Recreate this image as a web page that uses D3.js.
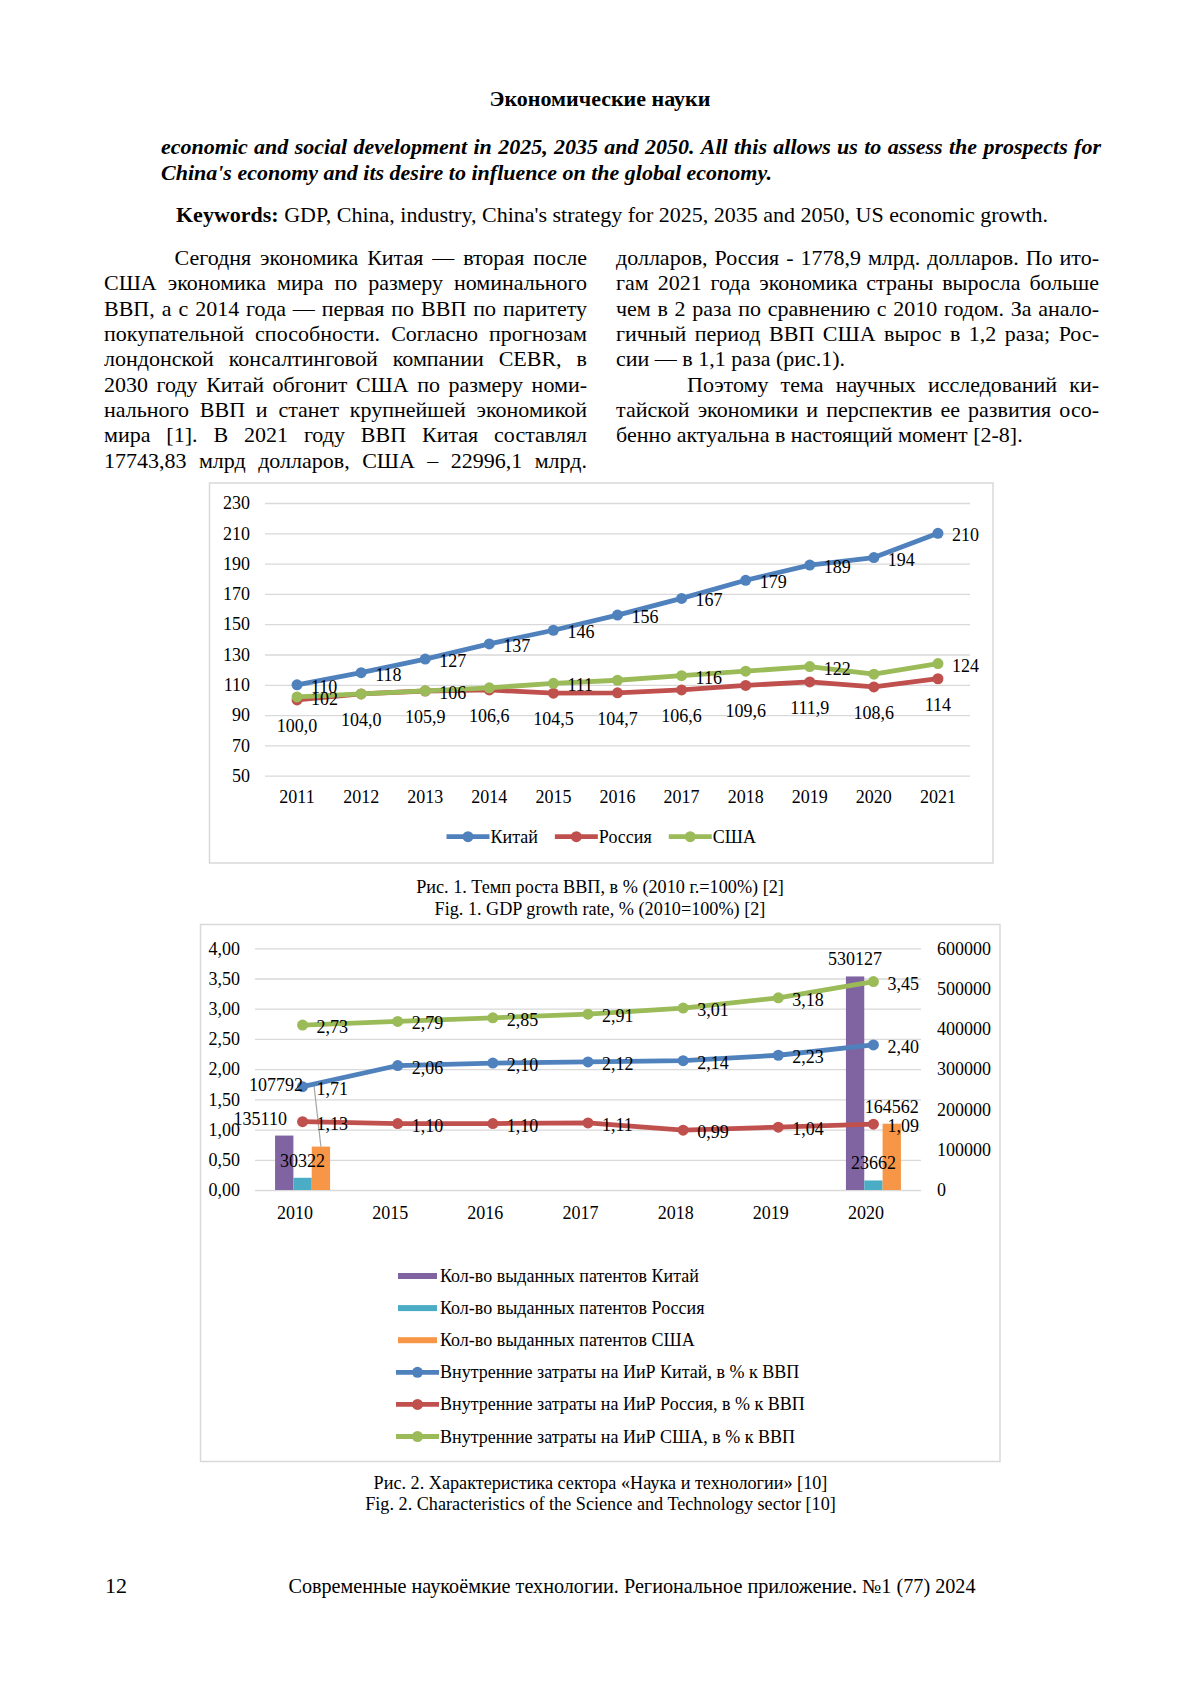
<!DOCTYPE html>
<html>
<head>
<meta charset="utf-8">
<script src="https://cdn.jsdelivr.net/npm/d3@7"></script>
<style>
  html, body { margin: 0; padding: 0; background: #fff; }
  svg { display: block; }
</style>
</head>
<body>
<script>
const width = 1200;
const height = 1697;
const SERIF = '"Liberation Serif", "Times New Roman", serif';

// ---- page text ----
const headerText = "Экономические науки";
const abstractLines = [
  "economic and social development in 2025, 2035 and 2050. All this allows us to assess the prospects for",
  "China's economy and its desire to influence on the global economy.",
];
const keywordsHead = "Keywords:";
const keywordsText = " GDP, China, industry, China's strategy for 2025, 2035 and 2050, US economic growth.";
const leftColumn = [
  "Сегодня экономика Китая — вторая после",
  "США экономика мира по размеру номинального",
  "ВВП, а с 2014 года — первая по ВВП по паритету",
  "покупательной способности. Согласно прогнозам",
  "лондонской консалтинговой компании CEBR, в",
  "2030 году Китай обгонит США по размеру номи-",
  "нального ВВП и станет крупнейшей экономикой",
  "мира [1]. В 2021 году ВВП Китая составлял",
  "17743,83 млрд долларов, США – 22996,1 млрд.",
];
const rightColumn = [
  "долларов, Россия - 1778,9 млрд. долларов. По ито-",
  "гам 2021 года экономика страны выросла больше",
  "чем в 2 раза по сравнению с 2010 годом. За анало-",
  "гичный период ВВП США вырос в 1,2 раза; Рос-",
  "сии — в 1,1 раза (рис.1).",
  "Поэтому тема научных исследований ки-",
  "тайской экономики и перспектив ее развития осо-",
  "бенно актуальна в настоящий момент [2-8].",
];
const fig1Caption = [
  "Рис. 1. Темп роста ВВП, в % (2010 г.=100%) [2]",
  "Fig. 1. GDP growth rate, % (2010=100%) [2]",
];
const fig2Caption = [
  "Рис. 2. Характеристика сектора «Наука и технологии» [10]",
  "Fig. 2. Characteristics of the Science and Technology sector [10]",
];
const pageNumber = "12";
const footerText = "Современные наукоёмкие технологии. Региональное приложение. №1 (77) 2024";

// ---- fig 1: GDP growth, % of 2010 ----
const years1 = ["2011", "2012", "2013", "2014", "2015", "2016", "2017", "2018", "2019", "2020", "2021"];
const gdpChina = [110, 118, 127, 137, 146, 156, 167, 179, 189, 194, 210];
const gdpRussia = [100.0, 104.0, 105.9, 106.6, 104.5, 104.7, 106.6, 109.6, 111.9, 108.6, 114];
const gdpRussiaLabels = ["100,0", "104,0", "105,9", "106,6", "104,5", "104,7", "106,6", "109,6", "111,9", "108,6", "114"];
const gdpUsa = [102, 104, 106, 108, 111, 113, 116, 119, 122, 117, 124];
const gdpUsaLabelled = ["2011", "2013", "2015", "2017", "2019", "2021"];
const gdpTicks = [50, 70, 90, 110, 130, 150, 170, 190, 210, 230];

// ---- fig 2: science & technology ----
const years2 = ["2010", "2015", "2016", "2017", "2018", "2019", "2020"];
const patChina = [135110, null, null, null, null, null, 530127];
const patRussia = [30322, null, null, null, null, null, 23662];
const patUsa = [107792, null, null, null, null, null, 164562];
const rdChina = [1.71, 2.06, 2.10, 2.12, 2.14, 2.23, 2.40];
const rdRussia = [1.13, 1.10, 1.10, 1.11, 0.99, 1.04, 1.09];
const rdUsa = [2.73, 2.79, 2.85, 2.91, 3.01, 3.18, 3.45];
const rdTicks = [0, 0.5, 1, 1.5, 2, 2.5, 3, 3.5, 4];
const patTicks = [0, 100000, 200000, 300000, 400000, 500000, 600000];

const C = {
  blue: "#4F81BD", red: "#C0504D", green: "#9BBB59",
  purple: "#8064A2", aqua: "#4BACC6", orange: "#F79646",
  grid: "#d9d9d9", frame: "#d9d9d9",
};

const ctx = document.createElement("canvas").getContext("2d");
const measure = (s, font) => { ctx.font = font; return ctx.measureText(s).width; };
const comma = (f) => (v) => d3.format(f)(v).replace(".", ",");

// draws one line of text word by word, spread out to x1 when justified;
// a line that would not fit is set a little smaller
function textLine(g, str, x0, x1, y, o) {
  let size = o.size;
  const fontOf = (sz) => `${o.style || "normal"} ${o.weight || "normal"} ${sz}px ${SERIF}`;
  const words = str.split(" ");
  let ws = words.map((w) => measure(w, fontOf(size)));
  const minGap = 0.2 * size;
  if (o.justify && words.length > 1) {
    const room = x1 - x0 - minGap * (words.length - 1);
    if (d3.sum(ws) > room) {
      size = size * room / d3.sum(ws);
      ws = words.map((w) => measure(w, fontOf(size)));
    }
  }
  let gap = measure(" ", fontOf(size));
  if (o.justify && words.length > 1) {
    gap = (x1 - x0 - d3.sum(ws)) / (words.length - 1);
  }
  let x = x0;
  words.forEach((w, i) => {
    g.append("text")
      .attr("x", x).attr("y", y)
      .attr("font-size", size)
      .attr("font-style", o.style || "normal")
      .attr("font-weight", o.weight || "normal")
      .text(w);
    x += ws[i] + gap;
  });
}

function drawPageText(svg) {
  const g = svg.append("g").attr("fill", "#000");
  g.append("text").attr("x", 600).attr("y", 106).attr("text-anchor", "middle")
    .attr("font-size", 22).attr("font-weight", "bold").text(headerText);

  textLine(g, abstractLines[0], 161, 1101, 154, { size: 22, style: "italic", weight: "bold", justify: true });
  textLine(g, abstractLines[1], 161, 1101, 179.5, { size: 22, style: "italic", weight: "bold" });

  const kw = g.append("text").attr("x", 176).attr("y", 222).attr("font-size", 22);
  kw.append("tspan").attr("font-weight", "bold").text(keywordsHead);
  kw.append("tspan").text(keywordsText);

  leftColumn.forEach((line, i) => {
    textLine(g, line, i === 0 ? 174.5 : 104, 587, 265 + i * 25.35, { size: 22, justify: true });
  });
  rightColumn.forEach((line, i) => {
    const last = i === 4 || i === rightColumn.length - 1;
    textLine(g, line, i === 5 ? 687 : 616, 1099, 265 + i * 25.35, { size: 22, justify: !last });
  });

  fig1Caption.forEach((t, i) => {
    g.append("text").attr("x", 600).attr("y", 893 + i * 21.5).attr("text-anchor", "middle")
      .attr("font-size", 18.2).text(t);
  });
  fig2Caption.forEach((t, i) => {
    g.append("text").attr("x", 600.5).attr("y", 1489 + i * 21).attr("text-anchor", "middle")
      .attr("font-size", 18.2).text(t);
  });

  g.append("text").attr("x", 105).attr("y", 1593).attr("font-size", 22).text(pageNumber);
  g.append("text").attr("x", 632).attr("y", 1593).attr("text-anchor", "middle")
    .attr("font-size", 20.2).text(footerText);
}

function styleAxis(a) {
  a.select(".domain").remove();
  a.selectAll("line").attr("stroke", C.grid).attr("stroke-width", 1.3);
  a.selectAll("text").attr("font-family", SERIF).attr("font-size", 18).attr("fill", "#000");
}

function drawGdpChart(svg) {
  const g = svg.append("g");
  g.append("rect").attr("x", 209.5).attr("y", 483).attr("width", 783.5).attr("height", 380)
    .attr("fill", "#fff").attr("stroke", C.frame).attr("stroke-width", 1.5);

  const x = d3.scaleBand().domain(years1).range([265, 970]);
  const y = d3.scaleLinear().domain([50, 230]).range([775.7, 503]);
  const cx = (d) => x(d) + x.bandwidth() / 2;

  g.append("g").attr("transform", "translate(265,0)")
    .call(d3.axisLeft(y).tickValues(gdpTicks).tickSize(-(970 - 265)).tickPadding(15).tickFormat(d3.format("d")))
    .call(styleAxis);
  g.append("g").attr("transform", "translate(0,775.7)")
    .call(d3.axisBottom(x).tickSize(0))
    .call(styleAxis)
    .call((a) => a.selectAll("text").attr("y", 27).attr("dy", null));

  const series = [
    { name: "Китай", color: C.blue, values: gdpChina, labels: gdpChina.map(String), pos: "right", show: years1 },
    { name: "Россия", color: C.red, values: gdpRussia, labels: gdpRussiaLabels, pos: "below", show: years1 },
    { name: "США", color: C.green, values: gdpUsa, labels: gdpUsa.map(String), pos: "right", show: gdpUsaLabelled },
  ];

  const line = d3.line().x((d) => cx(d.year)).y((d) => y(d.v));
  series.forEach((s) => {
    const pts = years1.map((year, i) => ({ year, v: s.values[i], label: s.labels[i] }));
    g.append("path").datum(pts).attr("d", line).attr("fill", "none")
      .attr("stroke", s.color).attr("stroke-width", 4.8).attr("stroke-linejoin", "round");
    g.append("g").selectAll("circle").data(pts).join("circle")
      .attr("cx", (d) => cx(d.year)).attr("cy", (d) => y(d.v)).attr("r", 5.5).attr("fill", s.color);
    s.pts = pts;
  });
  series.forEach((s) => {
    g.append("g").selectAll("text").data(s.pts.filter((d) => s.show.includes(d.year))).join("text")
      .attr("font-size", 18)
      .attr("x", (d) => cx(d.year) + (s.pos === "right" ? 14 : 0))
      .attr("y", (d) => y(d.v) + (s.pos === "right" ? 8 : 32))
      .attr("text-anchor", s.pos === "right" ? "start" : "middle")
      .text((d) => d.label);
  });

  // legend
  let lx = 446.5;
  const ly = 836.7;
  series.forEach((s) => {
    g.append("line").attr("x1", lx).attr("x2", lx + 43).attr("y1", ly).attr("y2", ly)
      .attr("stroke", s.color).attr("stroke-width", 4.8);
    g.append("circle").attr("cx", lx + 21.5).attr("cy", ly).attr("r", 5.5).attr("fill", s.color);
    g.append("text").attr("x", lx + 44).attr("y", ly + 6).attr("font-size", 18).text(s.name);
    lx += 44 + measure(s.name, `18px ${SERIF}`) + 17;
  });
}

function drawScienceChart(svg) {
  const g = svg.append("g");
  g.append("rect").attr("x", 200.5).attr("y", 924.5).attr("width", 799.5).attr("height", 537)
    .attr("fill", "#fff").attr("stroke", C.frame).attr("stroke-width", 1.5);

  const x = d3.scaleBand().domain(years2).range([255, 921]);
  const yL = d3.scaleLinear().domain([0, 4]).range([1190, 948.3]);
  const yR = d3.scaleLinear().domain([0, 600000]).range([1190, 948.3]);
  const cx = (d) => x(d) + x.bandwidth() / 2;
  const inner = d3.scaleBand().domain([0, 1, 2]).range([-27.5, 27.5]);

  g.append("g").attr("transform", "translate(255,0)")
    .call(d3.axisLeft(yL).tickValues(rdTicks).tickSize(-(921 - 255)).tickPadding(15).tickFormat(comma(".2f")))
    .call(styleAxis);
  g.append("g").attr("transform", "translate(921,0)")
    .call(d3.axisRight(yR).tickValues(patTicks).tickSize(0).tickPadding(16).tickFormat(d3.format("d")))
    .call(styleAxis);
  g.append("g").attr("transform", "translate(0,1190)")
    .call(d3.axisBottom(x).tickSize(0))
    .call(styleAxis)
    .call((a) => a.selectAll("text").attr("y", 29).attr("dy", null).attr("dx", -7.5));

  const bars = [
    { name: "Кол-во выданных патентов Китай", color: C.purple, values: patChina },
    { name: "Кол-во выданных патентов Россия", color: C.aqua, values: patRussia },
    { name: "Кол-во выданных патентов США", color: C.orange, values: patUsa },
  ];
  // labels moved by hand in the source chart: [series, year, dx, dy, leader]
  const labelMoves = [
    [0, "2010", -24, 0, false],
    [2, "2010", -45, -45, true],
  ];

  bars.forEach((s, k) => {
    const pts = years2.map((year, i) => ({ year, v: s.values[i] })).filter((d) => d.v != null);
    g.append("g").selectAll("rect").data(pts).join("rect")
      .attr("x", (d) => cx(d.year) + inner(k)).attr("width", inner.bandwidth())
      .attr("y", (d) => yR(d.v)).attr("height", (d) => yR(0) - yR(d.v))
      .attr("fill", s.color);
    s.pts = pts;
  });

  const lines = [
    { name: "Внутренние затраты на ИиР Китай, в % к ВВП", color: C.blue, values: rdChina },
    { name: "Внутренние затраты на ИиР Россия, в % к ВВП", color: C.red, values: rdRussia },
    { name: "Внутренние затраты на ИиР США, в % к ВВП", color: C.green, values: rdUsa },
  ];
  const line = d3.line().x((d) => cx(d.year)).y((d) => yL(d.v));

  // leader line drawn under the lines
  labelMoves.filter((m) => m[4]).forEach(([k, year, dx, dy]) => {
    const v = bars[k].values[years2.indexOf(year)];
    const bx = cx(year) + inner(k) + inner.bandwidth() / 2;
    g.append("line").attr("x1", bx - 7).attr("y1", yR(v) - 17 + dy)
      .attr("x2", bx).attr("y2", yR(v))
      .attr("stroke", "#a6a6a6").attr("stroke-width", 1.2);
  });

  lines.forEach((s) => {
    const pts = years2.map((year, i) => ({ year, v: s.values[i] }));
    g.append("path").datum(pts).attr("d", line).attr("fill", "none")
      .attr("stroke", s.color).attr("stroke-width", 4.8).attr("stroke-linejoin", "round");
    g.append("g").selectAll("circle").data(pts).join("circle")
      .attr("cx", (d) => cx(d.year)).attr("cy", (d) => yL(d.v)).attr("r", 5.5).attr("fill", s.color);
    s.pts = pts;
  });
  lines.forEach((s) => {
    g.append("g").selectAll("text").data(s.pts).join("text")
      .attr("font-size", 18)
      .attr("x", (d) => cx(d.year) + 14).attr("y", (d) => yL(d.v) + 8)
      .text((d) => comma(".2f")(d.v));
  });
  bars.forEach((s, k) => {
    g.append("g").selectAll("text").data(s.pts).join("text")
      .attr("font-size", 18).attr("text-anchor", "middle")
      .attr("x", (d) => {
        const m = labelMoves.find((m) => m[0] === k && m[1] === d.year);
        return cx(d.year) + inner(k) + inner.bandwidth() / 2 + (m ? m[2] : 0);
      })
      .attr("y", (d) => {
        const m = labelMoves.find((m) => m[0] === k && m[1] === d.year);
        return yR(d.v) - 11 + (m ? m[3] : 0);
      })
      .text((d) => d3.format("d")(d.v));
  });

  // legend, one item per row
  const items = [...bars.map((s) => ({ ...s, kind: "bar" })), ...lines.map((s) => ({ ...s, kind: "line" }))];
  items.forEach((s, i) => {
    const ly = 1276 + i * 32.1;
    if (s.kind === "bar") {
      g.append("rect").attr("x", 398).attr("y", ly - 3).attr("width", 39).attr("height", 6).attr("fill", s.color);
    } else {
      g.append("line").attr("x1", 396).attr("x2", 439).attr("y1", ly).attr("y2", ly)
        .attr("stroke", s.color).attr("stroke-width", 4.8);
      g.append("circle").attr("cx", 417.5).attr("cy", ly).attr("r", 5.5).attr("fill", s.color);
    }
    g.append("text").attr("x", 440).attr("y", ly + 6).attr("font-size", 18).text(s.name);
  });
}

const svg = d3.create("svg")
  .attr("width", width).attr("height", height)
  .attr("viewBox", [0, 0, width, height])
  .attr("font-family", SERIF);
svg.append("rect").attr("width", width).attr("height", height).attr("fill", "#fff");

drawPageText(svg);
drawGdpChart(svg);
drawScienceChart(svg);

document.body.appendChild(svg.node());
</script>
</body>
</html>
